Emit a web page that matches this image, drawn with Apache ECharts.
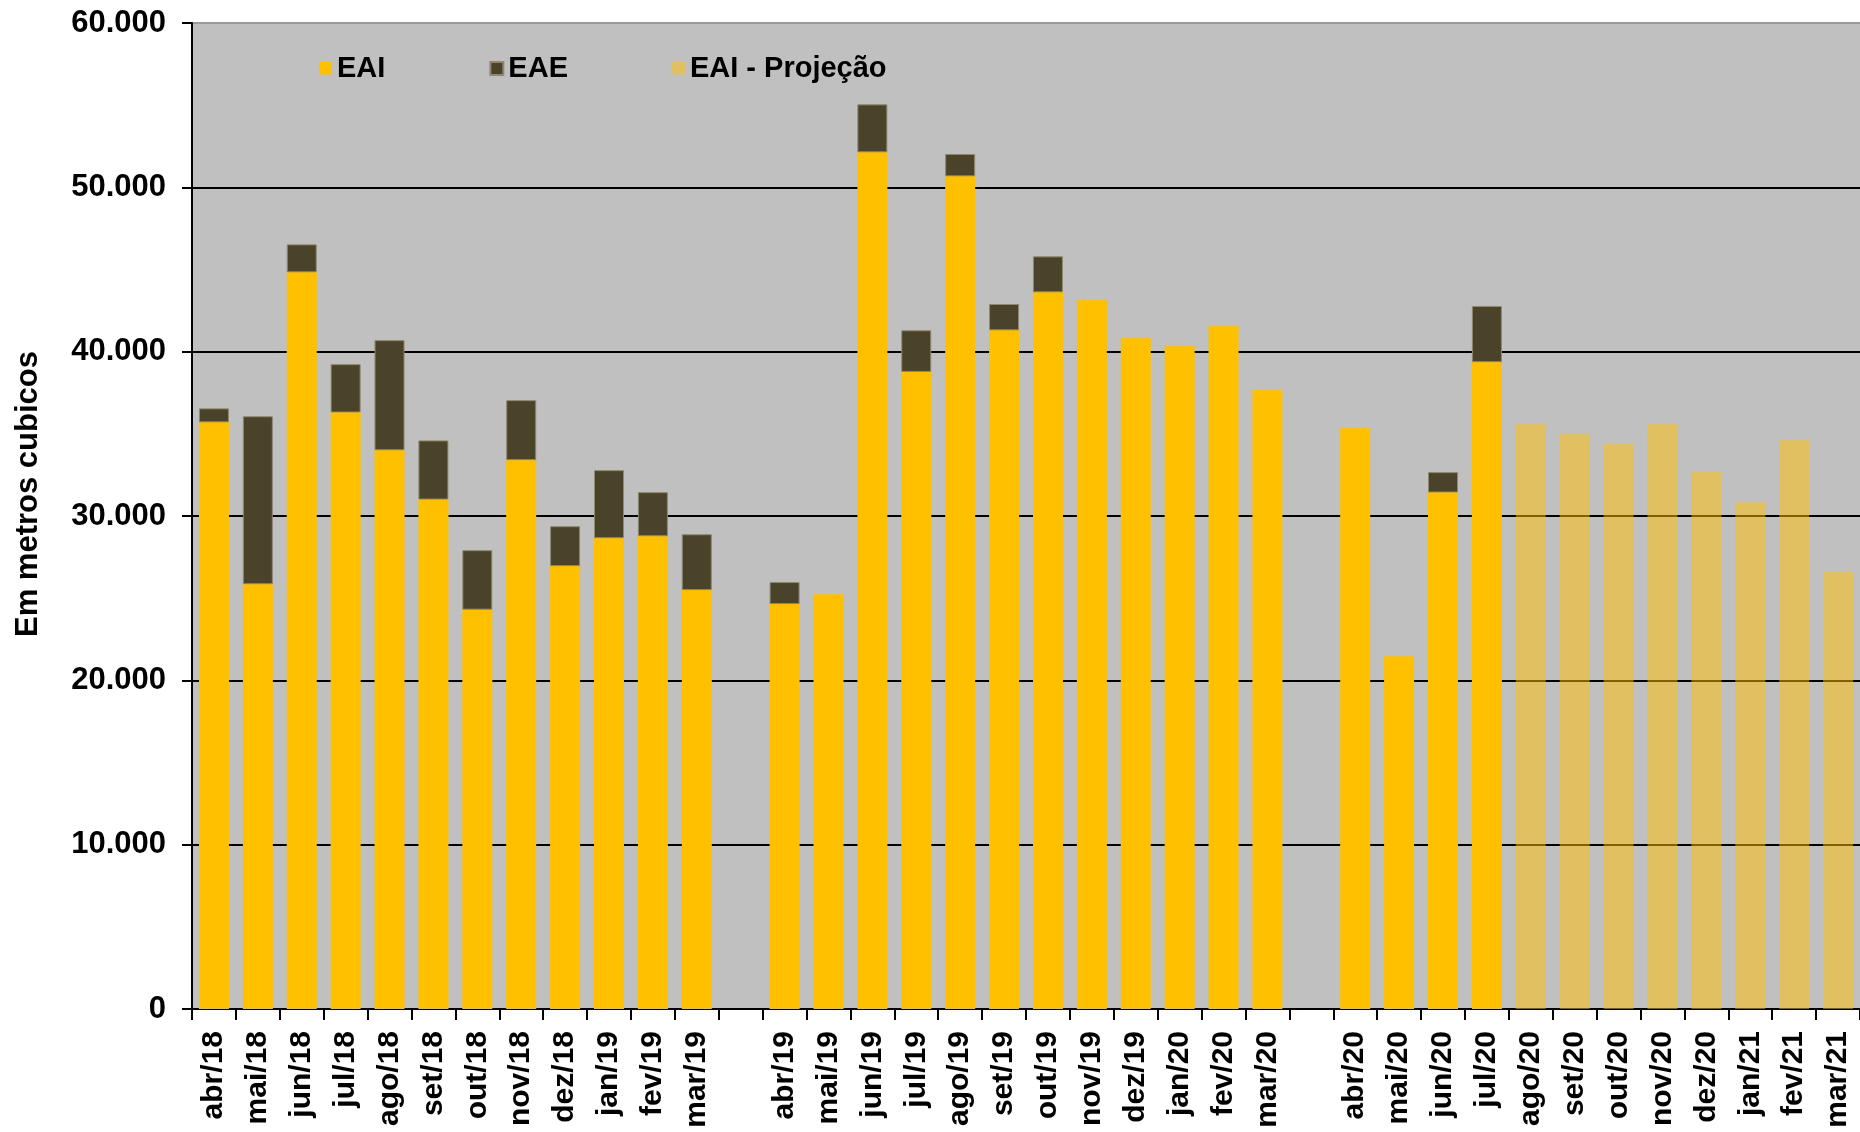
<!DOCTYPE html>
<html>
<head>
<meta charset="utf-8">
<script src="https://cdn.jsdelivr.net/npm/echarts@6/dist/echarts.min.js"></script>
<style>
html,body{margin:0;padding:0;background:#fff;}
#chart{width:1860px;height:1132px;}
</style>
</head>
<body>
<div id="chart"></div>
<script>
const categories = ['abr/18','mai/18','jun/18','jul/18','ago/18','set/18','out/18','nov/18','dez/18','jan/19','fev/19','mar/19',' ',
  'abr/19','mai/19','jun/19','jul/19','ago/19','set/19','out/19','nov/19','dez/19','jan/20','fev/20','mar/20','  ',
  'abr/20','mai/20','jun/20','jul/20','ago/20','set/20','out/20','nov/20','dez/20','jan/21','fev/21','mar/21'];

const eai = [35700,25850,44830,36300,34000,31000,24300,33400,26950,28650,28770,25490,null,
  24640,25220,52130,38770,50670,41300,43610,43130,40820,40330,41550,37650,null,
  35340,21450,31430,39360,null,null,null,null,null,null,null,null];

const eae = [850,10220,1700,2940,6700,3600,3620,3650,2430,4140,2680,3400,null,
  1340,null,2920,2530,1360,1600,2190,null,null,null,null,null,null,
  null,null,1240,3420,null,null,null,null,null,null,null,null];

const eaiProjecao = [null,null,null,null,null,null,null,null,null,null,null,null,null,
  null,null,null,null,null,null,null,null,null,null,null,null,null,
  null,null,null,null,35590,34980,34370,35590,32670,30820,34610,26580];

const yTickLabels = ['0','10.000','20.000','30.000','40.000','50.000','60.000'];
const seriesNames = ['EAI','EAE','EAI - Projeção'];
const yAxisTitle = 'Em metros cubicos';

const FONT = '"Liberation Sans", Arial, sans-serif';
const chart = echarts.init(document.getElementById('chart'));
chart.setOption({
  animation: false,
  backgroundColor: '#ffffff',
  textStyle: {fontFamily: FONT},
  grid: {
    left: 192, top: 23, width: 1672, height: 986,
    show: true, backgroundColor: '#C0C0C0', borderWidth: 0
  },
  legend: {
    data: seriesNames,
    left: 314, top: 49,
    itemWidth: 13, itemHeight: 13, itemGap: 104,
    icon: 'rect',
    textStyle: {fontFamily: FONT, fontSize: 29, fontWeight: 'bold', color: '#000'}
  },
  xAxis: {
    type: 'category',
    data: categories,
    boundaryGap: true,
    axisLine: {show: true, lineStyle: {color: '#000', width: 2}},
    axisTick: {show: true, interval: 0, length: 11, lineStyle: {color: '#000', width: 2}},
    axisLabel: {interval: 0, rotate: 90, margin: 22, fontFamily: FONT, fontSize: 30, fontWeight: 'bold', color: '#000'},
    splitLine: {show: false}
  },
  yAxis: {
    type: 'value',
    min: 0, max: 60000, interval: 10000,
    name: yAxisTitle,
    nameLocation: 'middle',
    nameGap: 148,
    nameRotate: 90,
    nameTextStyle: {fontFamily: FONT, fontSize: 31, fontWeight: 'bold', color: '#000', padding: [0,0,0,44]},
    axisLine: {show: true, lineStyle: {color: '#000', width: 2}},
    axisTick: {show: true, length: 10, lineStyle: {color: '#000', width: 2}},
    axisLabel: {
      margin: 26, fontFamily: FONT, fontSize: 31, fontWeight: 'bold', color: '#000',
      formatter: function (v) { return yTickLabels[Math.round(v / 10000)]; }
    },
    splitLine: {show: true, lineStyle: {color: ['#000','#000','#000','#000','#000','#000','#9a9a9a'], width: 2}}
  },
  series: [
    {name: seriesNames[0], type: 'bar', stack: 'total', data: eai, barWidth: 30,
     itemStyle: {color: '#FFC000'}},
    {name: seriesNames[1], type: 'bar', stack: 'total', data: eae, barWidth: 30,
     itemStyle: {color: '#4A4329', borderColor: '#8c8872', borderWidth: 1}},
    {name: seriesNames[2], type: 'bar', stack: 'total', data: eaiProjecao, barWidth: 30,
     itemStyle: {color: 'rgba(255,192,0,0.5)'}}
  ]
});
</script>
</body>
</html>
